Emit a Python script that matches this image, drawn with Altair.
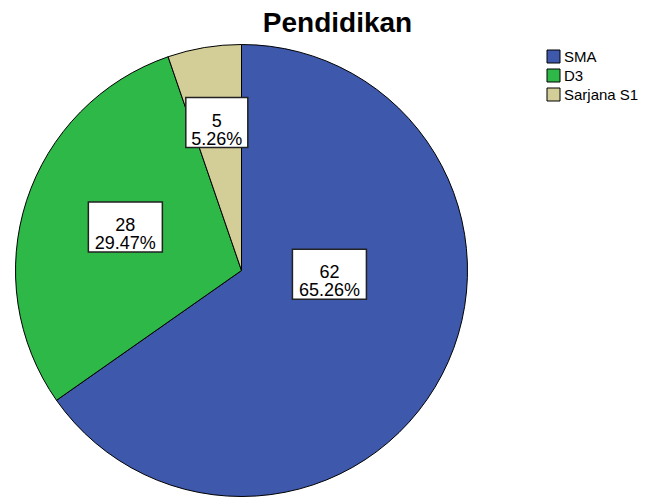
import altair as alt
import pandas as pd

title_text = ["Pendidikan"]
categories = ["SMA", "D3", "Sarjana S1"]
counts = [62, 28, 5]
percents = ["65.26%", "29.47%", "5.26%"]
colors = ["#3E58AC", "#2EB848", "#D3CE97"]

df = pd.DataFrame({
    "kategori": categories,
    "jumlah": counts,
    "persen": percents,
    "urut": list(range(len(categories))),
})

CX, CY, R = 233.5, 222.5, 226
FONT = "Liberation Sans"

base = alt.Chart(df)

pie = base.mark_arc(stroke="black", strokeWidth=1, radius=R).encode(
    theta=alt.Theta("jumlah:Q", stack=True),
    color=alt.Color(
        "kategori:N",
        sort=categories,
        scale=alt.Scale(domain=categories, range=colors),
        legend=alt.Legend(
            title=None,
            orient="none",
            legendX=538,
            legendY=1,
            symbolType="square",
            symbolSize=169,
            symbolStrokeColor="black",
            symbolStrokeWidth=1,
            symbolOpacity=1,
            labelFont=FONT,
            labelFontSize=15,
            labelColor="black",
            labelOffset=3,
            rowPadding=2,
        ),
    ),
    order=alt.Order("urut:Q"),
    x=alt.value(CX),
    y=alt.value(CY),
)

labels_base = (
    base.transform_window(cum="sum(jumlah)", sort=[alt.SortField("urut")], frame=[None, 0])
    .transform_joinaggregate(total="sum(jumlah)")
    .transform_calculate(mid="(datum.cum - datum.jumlah/2) / datum.total * 2 * PI")
    .transform_calculate(
        lang="datum.kategori == 'SMA' ? 92.5 * PI / 180 : (datum.kategori == 'D3' ? 290.5 * PI / 180 : datum.mid)",
        lrad="datum.kategori == 'SMA' ? 88 : (datum.kategori == 'D3' ? 124 : 150)",
    )
    .transform_calculate(
        lx=f"{CX} + datum.lrad * sin(datum.lang)",
        ly=f"{CY} - datum.lrad * cos(datum.lang)",
        bw="12 * length(datum.persen) + 2",
    )
    .transform_calculate(
        x1="datum.lx - datum.bw/2",
        x2="datum.lx + datum.bw/2",
        y1="datum.ly - 25",
        y2="datum.ly + 25",
        teks="[datum.jumlah + '', datum.persen]",
    )
)

boxes = labels_base.mark_rect(fill="white", stroke="#222222", strokeWidth=1.5).encode(
    x=alt.X("x1:Q", scale=None, axis=None),
    x2="x2:Q",
    y=alt.Y("y1:Q", scale=None, axis=None),
    y2="y2:Q",
)

texts = labels_base.mark_text(
    font=FONT, fontSize=18, lineHeight=18, align="center", baseline="middle", color="black", dy=-1
).encode(
    x=alt.X("lx:Q", scale=None, axis=None),
    y=alt.Y("ly:Q", scale=None, axis=None),
    text="teks:N",
)

title = alt.Chart(pd.DataFrame({"judul": title_text})).mark_text(
    font=FONT, fontSize=28, fontWeight="bold", align="center", baseline="alphabetic", color="black"
).encode(
    text="judul:N",
    x=alt.value(329.5),
    y=alt.value(-16),
)

chart = (
    alt.layer(pie, boxes, texts, title)
    .properties(
        width=647,
        height=451,
        background="white",
        autosize=alt.AutoSizeParams(type="none"),
        padding={"top": 40, "left": 0, "right": 0, "bottom": 0},
    )
    .configure_view(stroke=None, strokeWidth=0)
    .configure_axis(domain=False, grid=False, ticks=False, labels=False)
)

chart.save("out.html", embed_options={"renderer": "svg", "actions": False})
